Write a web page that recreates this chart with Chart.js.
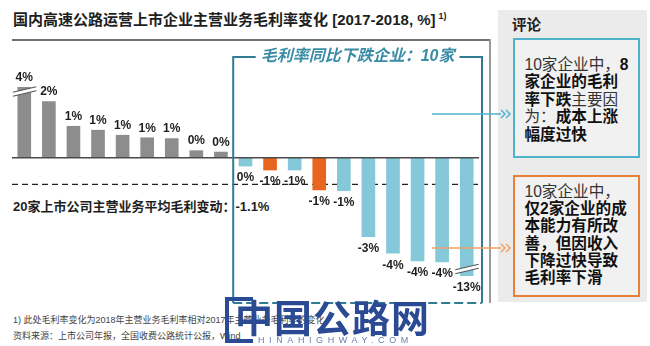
<!DOCTYPE html>
<html>
<head>
<meta charset="utf-8">
<script src="https://cdn.jsdelivr.net/npm/chart.js@4.4.1/dist/chart.umd.min.js"></script>
<style>
  body { margin: 0; width: 650px; height: 346px; overflow: hidden; background: #fff; position: relative;
         font-family: "Liberation Sans", "Noto Sans CJK SC", sans-serif; color: #222; }
  .abs { position: absolute; white-space: nowrap; }
  #title { left: 13px; top: 6px; font-size: 15px; font-weight: bold; line-height: 20px; color: #1e1e1e; }
  #title sup { font-size: 9px; vertical-align: 6px; margin-left: 3px; }
  #rule { left: 12px; top: 39px; width: 479px; height: 2px; background: #6e6e6e; }
  #vrule { left: 489px; top: 39px; width: 2px; height: 264px; background: #9a9a9a; }
  #avg { left: 13px; top: 199px; font-size: 13px; font-weight: bold; line-height: 16px; color: #1e1e1e; }
  #panel { left: 498px; top: 10px; width: 149px; height: 292px; background: #ebebeb; z-index: 1; }
  #panelHead { left: 512px; top: 15px; font-size: 14.5px; font-weight: bold; line-height: 20px; color: #222; z-index: 1; }
  .note { left: 513px; width: 127px; box-sizing: border-box; border: 2.5px solid; background: #f1f1f1;
          font-size: 15.6px; line-height: 17.4px; padding-left: 9.5px; color: #111; z-index: 1; }
  .note b { font-weight: bold; }
  .note span { font-weight: normal; color: #333; }
  #noteBlue { top: 38px; height: 120px; border-color: #4fb3cb; padding-top: 16px; }
  #noteOrange { top: 175px; height: 122px; border-color: #e8803a; padding-top: 6px; font-weight: bold; line-height: 17.2px; }
  .foot { left: 13px; font-size: 9px; line-height: 12px; color: #444; }
  #logoBox { left: 225px; top: 297px; width: 24px; height: 38px; border: 4px solid #2a4a94; border-right: none; z-index: 3; }
  #logo { left: 235px; top: 296px; font-size: 38px; line-height: 40px; font-weight: bold; color: #2a4a94;
          letter-spacing: 1px; z-index: 3; font-family: "Noto Sans CJK SC", sans-serif; }
  #logoSub { left: 258px; top: 335px; font-size: 9px; line-height: 11px; letter-spacing: 4.6px; color: #6a7fae; z-index: 3; }
  #chart { position: absolute; left: 0; top: 0; z-index: 2; }
</style>
</head>
<body>
<div class="abs" id="title">国内高速公路运营上市企业主营业务毛利率变化 [2017-2018, %]<sup>1)</sup></div>
<div class="abs" id="rule"></div>
<div class="abs" id="vrule"></div>
<div class="abs" id="avg"></div>

<div class="abs" id="panel"></div>
<div class="abs" id="panelHead">评论</div>
<div class="abs note" id="noteBlue"><span>10家企业中，</span><b>8</b><br><b>家企业的毛利</b><br><b>率下跌</b><span>主要因</span><br><span>为：</span><b>成本上涨</b><br><b>幅度过快</b></div>
<div class="abs note" id="noteOrange"><span>10家企业中，</span><br>仅2家企业的成<br>本能力有所改<br>善，但因收入<br>下降过快导致<br>毛利率下滑</div>

<div class="abs foot" style="top:314px">1) 此处毛利率变化为2018年主营业务毛利率相对2017年主营业务毛利率的变化</div>
<div class="abs foot" style="top:330px">资料来源：上市公司年报，全国收费公路统计公报，Wind</div>

<div class="abs" id="logoBox"></div>
<div class="abs" id="logo">中国公路网</div>
<div class="abs" id="logoSub">HINAHIGHWAY.COM</div>

<canvas id="chart" width="650" height="346"></canvas>

<script>
// 20家上市公司 (19 bars visible), sorted by change in gross margin
const companies = ['C01', 'C02', 'C03', 'C04', 'C05', 'C06', 'C07', 'C08', 'C09', 'C10',
                   'C11', 'C12', 'C13', 'C14', 'C15', 'C16', 'C17', 'C18', 'C19'];
const marginChange = [4.0, 2.0, 1.12, 0.98, 0.8, 0.71, 0.68, 0.25, 0.2, -0.3,
                      -0.44, -0.44, -1.15, -1.18, -2.82, -3.41, -3.68, -3.72, -13.0];
const valueLabels = ['4%', '2%', '1%', '1%', '1%', '1%', '1%', '0%', '0%', '0%',
                     '-1%', '-1%', '-1%', '-1%', '-3%', '-4%', '-4%', '-4%', '-13%'];
// up = margin rose, down = margin fell (cost), revenue = margin fell although cost improved
const barGroup = ['up', 'up', 'up', 'up', 'up', 'up', 'up', 'up', 'up', 'down',
                  'revenue', 'down', 'revenue', 'down', 'down', 'down', 'down', 'down', 'down'];
const avgLinePos = -0.95;          // where the dashed average line sits
const avgText = '20家上市公司主营业务平均毛利变动：-1.1%';
const fallBoxTitle = '毛利率同比下跌企业：10家';
const yMin = -4.22, yMax = 2.52;   // axis window, outliers are cut with break marks

const groupColors = { up: '#8d8d8d', down: '#85c8da', revenue: '#e8651f' };

document.getElementById('avg').textContent = avgText;

const decor = {
  id: 'decor',
  beforeDatasetsDraw(chart) {
    const { ctx, chartArea: a, scales: { y } } = chart;
    const yy = y.getPixelForValue(avgLinePos);
    ctx.save();
    ctx.strokeStyle = '#222';
    ctx.lineWidth = 1.2;
    ctx.setLineDash([6, 4]);
    ctx.beginPath();
    ctx.moveTo(a.left, yy);
    ctx.lineTo(a.right, yy);
    ctx.stroke();
    ctx.restore();
  },
  afterDatasetsDraw(chart) {
    const { ctx, chartArea: a, scales: { x, y } } = chart;
    const meta = chart.getDatasetMeta(0);
    ctx.save();

    // zero line
    const y0 = y.getPixelForValue(0);
    ctx.strokeStyle = '#4a4a4a';
    ctx.lineWidth = 1.5;
    ctx.beginPath();
    ctx.moveTo(a.left, y0);
    ctx.lineTo(a.right, y0);
    ctx.stroke();

    // value labels + breaks for cut bars
    ctx.font = 'bold 12px "Liberation Sans", Arial, sans-serif';
    ctx.textAlign = 'center';
    ctx.textBaseline = 'middle';
    meta.data.forEach((el, i) => {
      const v = marginChange[i];
      const end = Math.min(Math.max(el.y, a.top), a.bottom);
      ctx.fillStyle = '#1e1e1e';
      ctx.fillText(valueLabels[i], el.x, v >= 0 ? end - 9.5 : end + 12);

      const cut = v > yMax || v < yMin;
      if (cut) {
        const yc = v > yMax ? a.top + 4.5 : a.bottom - 7;
        const x1 = el.x - 11.5, x2 = el.x + 12;
        const s = 5.5;   // rise across the mark
        ctx.fillStyle = '#fff';
        ctx.beginPath();
        ctx.moveTo(x1, yc - 2 + s / 2);
        ctx.lineTo(x2, yc - 2 - s / 2);
        ctx.lineTo(x2, yc + 2 - s / 2);
        ctx.lineTo(x1, yc + 2 + s / 2);
        ctx.closePath();
        ctx.fill();
        ctx.strokeStyle = '#555';
        ctx.lineWidth = 1.1;
        ctx.beginPath();
        ctx.moveTo(x1, yc - 2 + s / 2); ctx.lineTo(x2, yc - 2 - s / 2);
        ctx.moveTo(x1, yc + 2 + s / 2); ctx.lineTo(x2, yc + 2 - s / 2);
        ctx.stroke();
      }
    });

    // frame round the falling companies
    const firstFall = marginChange.findIndex(v => v < 0);
    const bl = (x.getPixelForValue(firstFall - 1) + x.getPixelForValue(firstFall)) / 2;
    const br = a.right + 3;
    const bt = 57, bb = 303;
    ctx.font = 'italic bold 16px "Liberation Sans", "Noto Sans CJK SC", sans-serif';
    const tw = ctx.measureText(fallBoxTitle).width;
    const cx = (bl + br) / 2;
    ctx.strokeStyle = '#2f7c93';
    ctx.lineWidth = 2;
    ctx.beginPath();
    ctx.moveTo(cx - tw / 2 - 5, bt);
    ctx.lineTo(bl, bt);
    ctx.lineTo(bl, bb);
    ctx.moveTo(cx + tw / 2 + 5, bt);
    ctx.lineTo(br, bt);
    ctx.lineTo(br, bb);
    ctx.stroke();
    ctx.setLineDash([9, 4]);
    ctx.beginPath();
    ctx.moveTo(bl, bb);
    ctx.lineTo(br, bb);
    ctx.stroke();
    ctx.setLineDash([]);
    ctx.fillStyle = '#3b8ca5';
    ctx.fillText(fallBoxTitle, cx, bt);

    // connectors to the comment boxes
    [[114, '#4fb3cb'], [248, '#f0a062']].forEach(([yy, col]) => {
      ctx.strokeStyle = col;
      ctx.lineWidth = 1.5;
      ctx.beginPath();
      ctx.moveTo(432, yy);
      ctx.lineTo(501, yy);
      ctx.stroke();
      for (let k = 0; k < 2; k++) {
        const x0 = 501 + k * 5;
        ctx.beginPath();
        ctx.moveTo(x0, yy - 4);
        ctx.lineTo(x0 + 4, yy);
        ctx.lineTo(x0, yy + 4);
        ctx.stroke();
      }
    });
    ctx.restore();
  }
};

new Chart(document.getElementById('chart'), {
  type: 'bar',
  data: {
    labels: companies,
    datasets: [{
      data: marginChange,
      backgroundColor: barGroup.map(g => groupColors[g]),
      barThickness: 13,
      clip: 0
    }]
  },
  options: {
    responsive: false,
    animation: false,
    layout: { padding: { left: 12, right: 171, top: 87, bottom: 70 } },
    plugins: { legend: { display: false }, tooltip: { enabled: false } },
    scales: {
      x: { display: false },
      y: { display: false, min: yMin, max: yMax }
    }
  },
  plugins: [decor]
});
</script>
</body>
</html>
